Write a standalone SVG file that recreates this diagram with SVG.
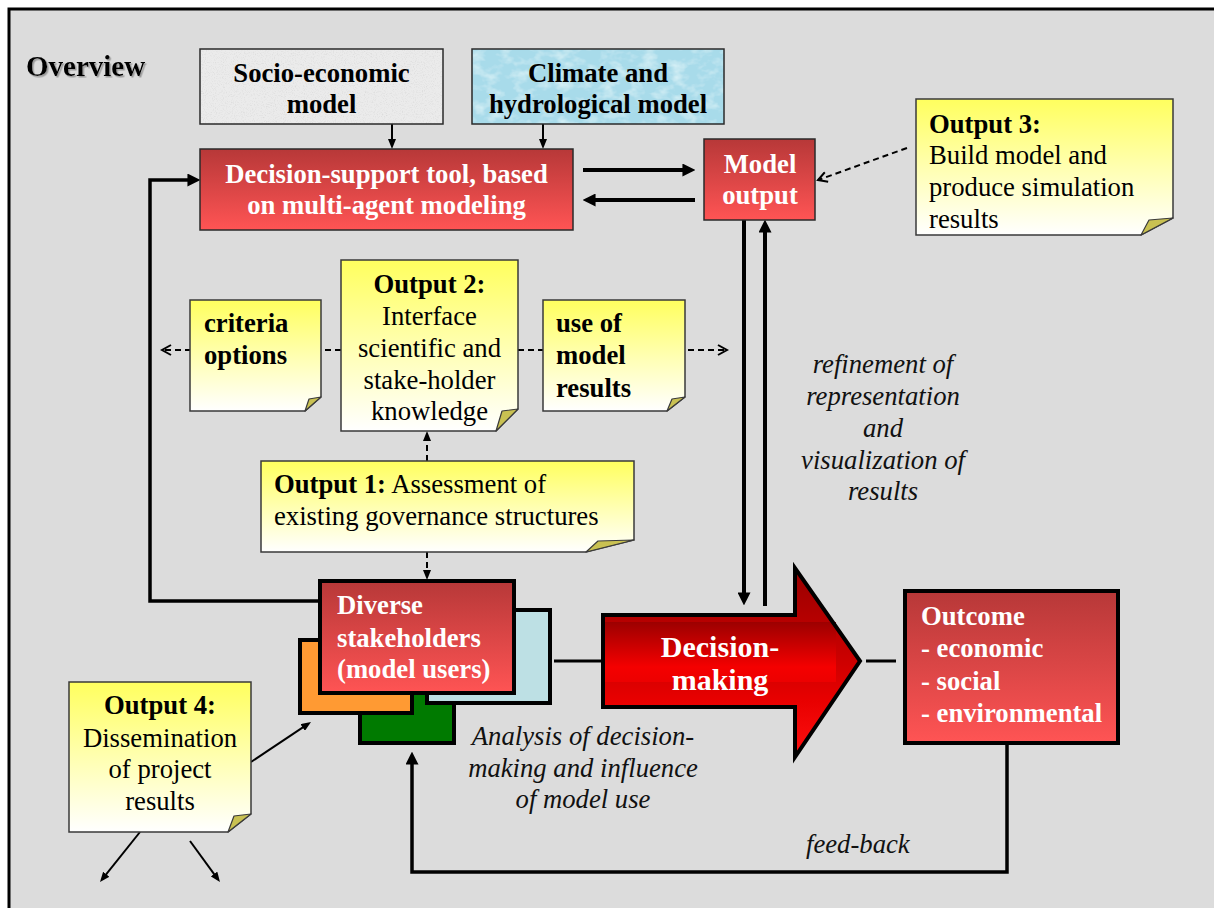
<svg xmlns="http://www.w3.org/2000/svg" width="1214" height="908" viewBox="0 0 1214 908">
  <defs>
    <style>
      .t { font-family: "Liberation Serif", "Times New Roman", serif; font-size: 26.7px; fill: #000; }
      .b { font-weight: bold; }
      .i { font-style: italic; fill: #111; }
      .w { fill: #fff; font-weight: bold; }
      .mid { text-anchor: middle; }
      .note { fill: url(#noteFill); stroke: #3a3a3a; stroke-width: 1.5; }
      .fold { fill: #c9c152; stroke: #3a3a3a; stroke-width: 1.2; stroke-linejoin: round; }
      .redbox { fill: url(#redFill); stroke: #2a2a2a; stroke-width: 1.5; }
      .heavy { stroke: #000; stroke-width: 4; }
      .line { fill: none; stroke: #000; }
      .dash { fill: none; stroke: #000; stroke-width: 2; stroke-dasharray: 6 4; }
    </style>
    <linearGradient id="noteFill" x1="0" y1="0" x2="0" y2="1">
      <stop offset="0" stop-color="#ffff5e"/>
      <stop offset="0.55" stop-color="#ffffb8"/>
      <stop offset="1" stop-color="#ffffff"/>
    </linearGradient>
    <linearGradient id="redFill" x1="0" y1="0" x2="0" y2="1">
      <stop offset="0" stop-color="#b73838"/>
      <stop offset="1" stop-color="#ff5454"/>
    </linearGradient>
    <linearGradient id="arrowFill" x1="0" y1="0" x2="0" y2="1">
      <stop offset="0" stop-color="#980000"/>
      <stop offset="0.45" stop-color="#c80000"/>
      <stop offset="0.7" stop-color="#e80000"/>
      <stop offset="1" stop-color="#ff1010"/>
    </linearGradient>
    <linearGradient id="bandFill" x1="0" y1="0" x2="0" y2="1">
      <stop offset="0" stop-color="#990000"/>
      <stop offset="0.75" stop-color="#f80000"/>
      <stop offset="1" stop-color="#ee0000"/>
    </linearGradient>
    <!-- paper grain for the socio-economic box -->
    <filter id="grain" x="0" y="0" width="100%" height="100%">
      <feTurbulence type="fractalNoise" baseFrequency="0.9" numOctaves="2" seed="3" result="n"/>
      <feColorMatrix in="n" type="matrix" values="0 0 0 0 0.6  0 0 0 0 0.6  0 0 0 0 0.6  0 0 0 -1.2 0.62" result="g"/>
      <feComposite in="g" in2="SourceGraphic" operator="in" result="gi"/>
      <feMerge><feMergeNode in="SourceGraphic"/><feMergeNode in="gi"/></feMerge>
    </filter>
    <!-- water-drop texture for the climate box -->
    <filter id="drops" x="0" y="0" width="100%" height="100%">
      <feTurbulence type="fractalNoise" baseFrequency="0.07 0.1" numOctaves="3" seed="7" result="n"/>
      <feColorMatrix in="n" type="matrix" values="0 0 0 0 0.9  0 0 0 0 1  0 0 0 0 1  1.2 0 0 0 -0.55" result="g"/>
      <feComposite in="g" in2="SourceGraphic" operator="in" result="gi"/>
      <feMerge><feMergeNode in="SourceGraphic"/><feMergeNode in="gi"/></feMerge>
    </filter>
    <filter id="shadow" x="-5%" y="-20%" width="115%" height="150%">
      <feDropShadow dx="1.5" dy="1.5" stdDeviation="0.6" flood-color="#888" flood-opacity="0.8"/>
    </filter>
    <marker id="headBig" viewBox="0 0 12 12" refX="7" refY="6" markerWidth="13" markerHeight="13" markerUnits="userSpaceOnUse" orient="auto">
      <path d="M0,0 L12,6 L0,12 Z" fill="#000"/>
    </marker>
    <marker id="headSmall" viewBox="0 0 10 8" refX="6" refY="4" markerWidth="10" markerHeight="8" markerUnits="userSpaceOnUse" orient="auto">
      <path d="M0,0 L10,4 L0,8 Z" fill="#000"/>
    </marker>
    <marker id="headOpen" viewBox="0 0 12 12" refX="10" refY="6" markerWidth="12" markerHeight="12" markerUnits="userSpaceOnUse" orient="auto">
      <path d="M1,1 L10,6 L1,11" fill="none" stroke="#000" stroke-width="2"/>
    </marker>
  </defs>

  <!-- page and panel -->
  <rect x="0" y="0" width="1214" height="908" fill="#fff"/>
  <rect x="9" y="9" width="1230" height="930" fill="#dcdcdc" stroke="#000" stroke-width="3"/>

  <text class="t b" x="26" y="76" style="font-size:29px" filter="url(#shadow)">Overview</text>

  <!-- connectors -->
  <g id="connectors">
    <line class="line" stroke-width="2" x1="392" y1="124" x2="392" y2="145" marker-end="url(#headSmall)"/>
    <line class="line" stroke-width="2" x1="543" y1="124" x2="543" y2="145" marker-end="url(#headSmall)"/>
    <line class="line heavy" x1="583" y1="170" x2="690" y2="170" marker-end="url(#headBig)"/>
    <line class="line heavy" x1="695" y1="200" x2="588" y2="200" marker-end="url(#headBig)"/>
    <line class="line heavy" x1="744" y1="220" x2="744" y2="600" marker-end="url(#headBig)"/>
    <line class="line heavy" x1="765" y1="606" x2="765" y2="225" marker-end="url(#headBig)"/>
    <line class="dash" x1="907" y1="148" x2="818" y2="180" marker-end="url(#headOpen)"/>
    <path class="line" stroke-width="3.5" d="M320,601 H150 V180 H195" marker-end="url(#headBig)"/>
    <line class="dash" x1="341" y1="350" x2="162" y2="350" marker-end="url(#headOpen)"/>
    <line class="dash" x1="518" y1="350" x2="727" y2="350" marker-end="url(#headOpen)"/>
    <line class="dash" x1="427" y1="461" x2="427" y2="435" marker-end="url(#headSmall)"/>
    <line class="dash" x1="427" y1="552" x2="427" y2="576" marker-end="url(#headSmall)"/>
    <line class="line" stroke-width="3" x1="554" y1="661" x2="603" y2="661"/>
    <line class="line" stroke-width="3" x1="866" y1="661" x2="896" y2="661"/>
    <path class="line" stroke-width="3.5" d="M1007,743 V872 H412 V757" marker-end="url(#headBig)"/>
    <line class="line" stroke-width="2" x1="251" y1="762" x2="307.7" y2="724.2" marker-end="url(#headSmall)"/>
    <line class="line" stroke-width="2" x1="140" y1="832" x2="102.5" y2="878.9" marker-end="url(#headSmall)"/>
    <line class="line" stroke-width="2" x1="190" y1="841" x2="217.6" y2="878.8" marker-end="url(#headSmall)"/>
  </g>

  <!-- input models -->
  <g id="socio-economic-model">
    <rect x="200" y="49" width="243" height="75" fill="#ebebeb" filter="url(#grain)"/>
    <rect x="200" y="49" width="243" height="75" fill="none" stroke="#2a2a2a" stroke-width="1.5"/>
    <text class="t b mid" x="321.5" y="82">Socio-economic</text>
    <text class="t b mid" x="321.5" y="113">model</text>
  </g>
  <g id="climate-model">
    <rect x="472" y="49" width="252" height="75" fill="#a8dbea" filter="url(#drops)"/>
    <rect x="472" y="49" width="252" height="75" fill="none" stroke="#2a2a2a" stroke-width="1.5"/>
    <text class="t b mid" x="598" y="82">Climate and</text>
    <text class="t b mid" x="598" y="113">hydrological model</text>
  </g>

  <g id="decision-support-tool">
    <rect class="redbox" x="200" y="149" width="373" height="81"/>
    <text class="t w mid" x="386.5" y="183">Decision-support tool, based</text>
    <text class="t w mid" x="386.5" y="214">on multi-agent modeling</text>
  </g>

  <g id="model-output">
    <rect class="redbox" x="704" y="139" width="111" height="81"/>
    <text class="t w mid" x="760" y="173">Model</text>
    <text class="t w mid" x="760" y="204">output</text>
  </g>

  <g id="output-3">
    <polygon class="note" points="916,99 1173,99 1173,218 1141,235 916,235"/>
    <polygon class="fold" points="1141,235 1149,220 1173,218"/>
    <text class="t b" x="929" y="133">Output 3:</text>
    <text class="t" x="929" y="164">Build model and</text>
    <text class="t" x="929" y="196">produce simulation</text>
    <text class="t" x="929" y="228">results</text>
  </g>

  <g id="criteria-options">
    <polygon class="note" points="190,300 321,300 321,397 305,411 190,411"/>
    <polygon class="fold" points="305,411 309,399 321,397"/>
    <text class="t b" x="204" y="332">criteria</text>
    <text class="t b" x="204" y="364">options</text>
  </g>

  <g id="output-2">
    <polygon class="note" points="341,260 518,260 518,409 496,431 341,431"/>
    <polygon class="fold" points="496,431 502,411 518,409"/>
    <text class="t b mid" x="429.5" y="293">Output 2:</text>
    <text class="t mid" x="429.5" y="325">Interface</text>
    <text class="t mid" x="429.5" y="357">scientific and</text>
    <text class="t mid" x="429.5" y="389">stake-holder</text>
    <text class="t mid" x="429.5" y="420">knowledge</text>
  </g>

  <g id="use-of-model-results">
    <polygon class="note" points="543,300 685,300 685,397 667,411 543,411"/>
    <polygon class="fold" points="667,411 672,399 685,397"/>
    <text class="t b" x="556" y="332">use of</text>
    <text class="t b" x="556" y="364">model</text>
    <text class="t b" x="556" y="397">results</text>
  </g>

  <g id="output-1">
    <polygon class="note" points="261,461 634,461 634,540 586,552 261,552"/>
    <polygon class="fold" points="586,552 598,541 634,540"/>
    <text class="t" x="274" y="493"><tspan class="b">Output 1:</tspan> Assessment of</text>
    <text class="t" x="274" y="525">existing governance structures</text>
  </g>

  <g id="stakeholders">
    <rect x="360" y="650" width="94" height="93" fill="#007a00" stroke="#000" stroke-width="4"/>
    <rect x="427" y="610" width="123" height="93" fill="#bde0e4" stroke="#000" stroke-width="4"/>
    <rect x="300" y="640" width="112" height="73" fill="#ff9a33" stroke="#000" stroke-width="4"/>
    <rect x="320" y="581" width="194" height="112" fill="url(#redFill)" stroke="#000" stroke-width="4"/>
    <text class="t w" x="337" y="614">Diverse</text>
    <text class="t w" x="337" y="647">stakeholders</text>
    <text class="t w" x="337" y="678">(model users)</text>
  </g>

  <g id="decision-making">
    <path d="M603,615 H795 V568 L860,661 L795,757 V707 H603 Z" fill="url(#arrowFill)"/>
    <rect x="603" y="622" width="233" height="60" fill="url(#bandFill)" opacity="0.9"/>
    <path d="M603,615 H795 V568 L860,661 L795,757 V707 H603 Z" fill="none" stroke="#000" stroke-width="4" stroke-linejoin="miter"/>
    <text class="t w mid" x="720" y="657" style="font-size:30px">Decision-</text>
    <text class="t w mid" x="720" y="690" style="font-size:30px">making</text>
  </g>

  <g id="outcome">
    <rect x="905" y="591" width="213" height="152" fill="url(#redFill)" stroke="#000" stroke-width="4"/>
    <text class="t w" x="921" y="625">Outcome</text>
    <text class="t w" x="921" y="657">- economic</text>
    <text class="t w" x="921" y="690">- social</text>
    <text class="t w" x="921" y="722">- environmental</text>
  </g>

  <g id="output-4">
    <polygon class="note" points="69,682 251,682 251,814 228,832 69,832"/>
    <polygon class="fold" points="228,832 234,816 251,814"/>
    <text class="t b mid" x="160" y="714">Output 4:</text>
    <text class="t mid" x="160" y="747">Dissemination</text>
    <text class="t mid" x="160" y="778">of project</text>
    <text class="t mid" x="160" y="810">results</text>
  </g>

  <!-- annotations -->
  <g id="labels">
    <text class="t i mid" x="883" y="373">refinement of</text>
    <text class="t i mid" x="883" y="405">representation</text>
    <text class="t i mid" x="883" y="437">and</text>
    <text class="t i mid" x="883" y="469">visualization of</text>
    <text class="t i mid" x="883" y="500">results</text>
    <text class="t i mid" x="583" y="745">Analysis of decision-</text>
    <text class="t i mid" x="583" y="777">making and influence</text>
    <text class="t i mid" x="583" y="808">of model use</text>
    <text class="t i" x="806" y="853">feed-back</text>
  </g>
</svg>
